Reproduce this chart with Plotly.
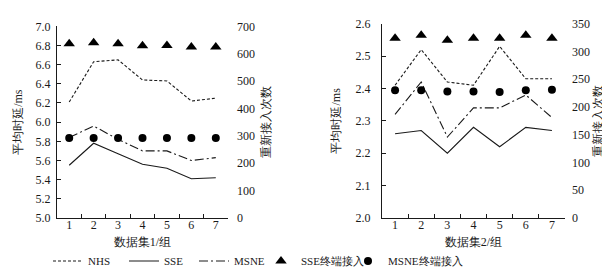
import plotly.graph_objects as go

groups = ["1", "2", "3", "4", "5", "6", "7"]

# Dataset 1 — average delay (ms)
nhs_1 = [6.21, 6.63, 6.65, 6.44, 6.43, 6.22, 6.25]
sse_1 = [5.55, 5.78, 5.67, 5.56, 5.52, 5.41, 5.42]
msne_1 = [5.84, 5.96, 5.82, 5.70, 5.70, 5.60, 5.63]
# Dataset 1 — reconnection counts
sse_cnt_1 = [636, 640, 636, 629, 630, 624, 624]
msne_cnt_1 = [292, 292, 292, 292, 292, 292, 292]

# Dataset 2 — average delay (ms)
nhs_2 = [2.41, 2.52, 2.42, 2.41, 2.53, 2.43, 2.43]
sse_2 = [2.26, 2.27, 2.20, 2.28, 2.22, 2.28, 2.27]
msne_2 = [2.32, 2.42, 2.25, 2.34, 2.34, 2.38, 2.31]
# Dataset 2 — reconnection counts
sse_cnt_2 = [324, 329, 320, 324, 324, 329, 324]
msne_cnt_2 = [230, 230, 228, 228, 227, 230, 231]

left_ticks = [5.0, 5.2, 5.4, 5.6, 5.8, 6.0, 6.2, 6.4, 6.6, 6.8, 7.0]
left_ticks2 = [0, 100, 200, 300, 400, 500, 600, 700]
right_ticks = [2.0, 2.1, 2.2, 2.3, 2.4, 2.5, 2.6]
right_ticks2 = [0, 50, 100, 150, 200, 250, 300, 350]

W, H = 610, 274
FONT = "Liberation Serif"
INK = "#1a1a1a"

def px_x(p):
    return p / W

def px_y(p):
    return 1 - p / H

fig = go.Figure()

NHS_DASH = "3px,2px"
MSNE_DASH = "9px,3px,2px,3px"

def add_panel(xa, ya, ya2, nhs, sse, msne, sse_cnt, msne_cnt, show):
    fig.add_trace(go.Scatter(x=groups, y=nhs, mode="lines", name="NHS",
                             line=dict(color=INK, width=1.1, dash=NHS_DASH),
                             xaxis=xa, yaxis=ya, showlegend=show, legend="legend"))
    fig.add_trace(go.Scatter(x=groups, y=sse, mode="lines", name="SSE",
                             line=dict(color=INK, width=1.1),
                             xaxis=xa, yaxis=ya, showlegend=show, legend="legend2"))
    fig.add_trace(go.Scatter(x=groups, y=msne, mode="lines", name="MSNE",
                             line=dict(color=INK, width=1.1, dash=MSNE_DASH),
                             xaxis=xa, yaxis=ya, showlegend=show, legend="legend3"))
    fig.add_trace(go.Scatter(x=groups, y=sse_cnt, mode="markers", name="SSE终端接入",
                             marker=dict(symbol="triangle-up", size=10, color="black"),
                             xaxis=xa, yaxis=ya2, showlegend=show, legend="legend4"))
    fig.add_trace(go.Scatter(x=groups, y=msne_cnt, mode="markers", name="MSNE终端接入",
                             marker=dict(symbol="circle", size=8, color="black"),
                             xaxis=xa, yaxis=ya2, showlegend=show, legend="legend5"))

add_panel("x", "y", "y2", nhs_1, sse_1, msne_1, sse_cnt_1, msne_cnt_1, True)
add_panel("x2", "y3", "y4", nhs_2, sse_2, msne_2, sse_cnt_2, msne_cnt_2, False)

tickfont = dict(family=FONT, size=12, color=INK)
titlefont = dict(family=FONT, size=12, color=INK)

xcommon = dict(type="category", range=[-0.5, 6.5], showline=True, linecolor=INK,
               linewidth=1.2, ticks="inside", ticklen=4, tickcolor=INK,
               tickson="boundaries", showgrid=False, zeroline=False,
               tickfont=tickfont, title_font=titlefont, automargin=False,
               ticklabelstandoff=-5)
ycommon = dict(showline=True, linecolor=INK, linewidth=1.2, ticks="inside",
               ticklen=4, tickcolor=INK, showgrid=False, zeroline=False,
               tickfont=tickfont, title_font=titlefont, automargin=False)
y2common = dict(showline=False, ticks="", showgrid=False, zeroline=False,
                tickfont=tickfont, title_font=titlefont, automargin=False,
                side="right")

bot = px_y(210)

fig.update_layout(
    width=W, height=H,
    margin=dict(l=0, r=0, t=0, b=0),
    paper_bgcolor="white", plot_bgcolor="white",
    font=dict(family=FONT, size=12, color=INK),
    xaxis=dict(domain=[px_x(49), px_x(220)], anchor="y",
               title=dict(text="数据集1/组", standoff=7), **xcommon),
    yaxis=dict(domain=[bot, px_y(18.3)], anchor="x", range=[5.0, 7.0],
               tickvals=left_ticks, ticktext=[f"{v:.1f}" for v in left_ticks],
               title=dict(text="平均时延/ms", standoff=10), ticklabelstandoff=3, **ycommon),
    yaxis2=dict(overlaying="y", anchor="x", range=[0, 700], tickvals=left_ticks2,
                title=dict(text="重新接入次数", standoff=7), ticklabelstandoff=8, **y2common),
    xaxis2=dict(domain=[px_x(374), px_x(557)], anchor="y3",
                title=dict(text="数据集2/组", standoff=7), **xcommon),
    yaxis3=dict(domain=[bot, px_y(15.7)], anchor="x2", range=[2.0, 2.6],
                tickvals=right_ticks, ticktext=[f"{v:.1f}" for v in right_ticks],
                title=dict(text="平均时延/ms", standoff=12), ticklabelstandoff=8, **ycommon),
    yaxis4=dict(overlaying="y3", anchor="x2", range=[0, 350], tickvals=right_ticks2,
                title=dict(text="重新接入次数", standoff=4), ticklabelstandoff=6, **y2common),
)

legend_base = dict(orientation="h", yanchor="middle", xanchor="left",
                   y=px_y(253), bgcolor="rgba(0,0,0,0)", borderwidth=0,
                   font=dict(family=FONT, size=11, color=INK))
fig.update_layout(
    legend=dict(x=px_x(40), **legend_base),
    legend2=dict(x=px_x(116), **legend_base),
    legend3=dict(x=px_x(186), **legend_base),
    legend4=dict(x=px_x(253), **legend_base),
    legend5=dict(x=px_x(340), **legend_base),
)

fig.write_html("out.html")
